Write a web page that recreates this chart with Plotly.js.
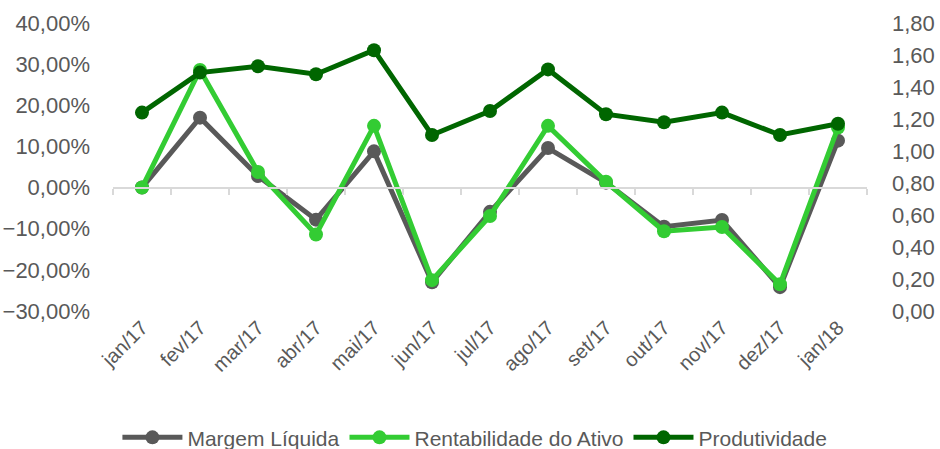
<!DOCTYPE html>
<html>
<head>
<meta charset="utf-8">
<script src="https://cdn.plot.ly/plotly-3.0.1.min.js"></script>
<style>html,body{margin:0;padding:0;background:#fff;}#chart{width:940px;height:449px;}</style>
</head>
<body>
<div id="chart"></div>
<script>
const categories = ["jan/17","fev/17","mar/17","abr/17","mai/17","jun/17","jul/17","ago/17","set/17","out/17","nov/17","dez/17","jan/18"];
const margemLiquida = [0.0, 17.0, 2.8, -7.8, 8.8, -23.0, -5.9, 9.6, 1.2, -9.5, -7.9, -24.2, 11.4];
const rentabilidadeAtivo = [0.0, 28.6, 3.8, -11.4, 15.0, -22.5, -6.9, 15.0, 1.4, -10.6, -9.6, -23.5, 14.6];
const produtividade = [1.24, 1.49, 1.53, 1.48, 1.63, 1.10, 1.25, 1.51, 1.23, 1.18, 1.24, 1.10, 1.17];
const seriesNames = ["Margem Líquida", "Rentabilidade do Ativo", "Produtividade"];

const textColor = "#595959";
const font = {family: "Liberation Sans, Arial, sans-serif", size: 20, color: textColor};

const traces = [
  {x: categories, y: categories.map(() => null), xaxis: "x2", yaxis: "y", mode: "lines",
   showlegend: false, hoverinfo: "skip"},
  {x: categories, y: margemLiquida, name: seriesNames[0], mode: "lines+markers",
   line: {color: "#595959", width: 5}, marker: {color: "#595959", size: 14}},
  {x: categories, y: rentabilidadeAtivo, name: seriesNames[1], mode: "lines+markers",
   line: {color: "#33cc33", width: 5}, marker: {color: "#33cc33", size: 14}},
  {x: categories, y: produtividade, name: seriesNames[2], yaxis: "y2", mode: "lines+markers",
   line: {color: "#006600", width: 5}, marker: {color: "#006600", size: 14}}
];

const layout = {
  width: 940, height: 449,
  margin: {l: 113, r: 73, t: 23, b: 138, autoexpand: false},
  paper_bgcolor: "#fff", plot_bgcolor: "#fff",
  separators: ",.",
  font: font,
  showlegend: true,
  legend: {orientation: "h", x: 0.48, xanchor: "center", y: -0.44, yanchor: "middle",
           itemwidth: 60,
           font: {family: font.family, size: 21, color: textColor}, traceorder: "normal"},
  xaxis: {type: "category", range: [-0.5, categories.length - 0.5], showline: false, ticks: "",
          showgrid: false, zeroline: false, tickangle: -45, automargin: false,
          tickfont: {size: 20, color: textColor}},
  xaxis2: {type: "category", overlaying: "x", anchor: "free", position: 30 / 70,
           range: [-0.5, categories.length - 0.5], showline: true, linecolor: "#d9d9d9", linewidth: 2,
           ticks: "outside", tickson: "boundaries", ticklen: 6, tickcolor: "#d9d9d9", tickwidth: 2,
           showticklabels: false, showgrid: false, zeroline: false, automargin: false},
  yaxis: {range: [-30, 40], dtick: 10, tickformat: ".2f", ticksuffix: "%", showgrid: false,
          zeroline: false, showline: false, ticks: "", ticklabelstandoff: 22, automargin: false,
          tickfont: {size: 22, color: textColor}},
  yaxis2: {range: [0, 1.8], dtick: 0.2, tickformat: ".2f", overlaying: "y", side: "right",
           showgrid: false, zeroline: false, showline: false, ticks: "", ticklabelstandoff: 24,
           automargin: false, tickfont: {size: 22, color: textColor}}
};

Plotly.newPlot("chart", traces, layout, {displayModeBar: false, staticPlot: true});
</script>
</body>
</html>
